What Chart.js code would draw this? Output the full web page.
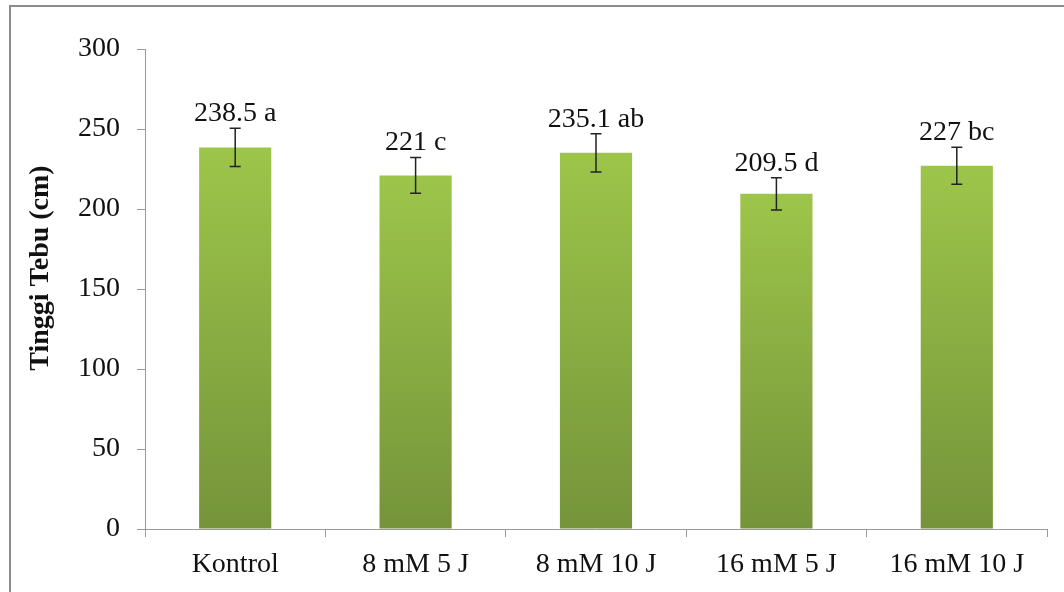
<!DOCTYPE html>
<html>
<head>
<meta charset="utf-8">
<title>Tinggi Tebu</title>
<script src="https://cdn.jsdelivr.net/npm/chart.js@4/dist/chart.umd.min.js"></script>
<style>
  html, body { margin: 0; padding: 0; background: #ffffff; overflow: hidden; width: 1064px; height: 592px; }
  #frame { position: absolute; left: 9px; top: 5px; width: 1100px; height: 700px; border: 2px solid #8c8c8c; box-sizing: border-box; }
  #wrap { position: absolute; left: 0; top: 0; width: 1064px; height: 592px; }
</style>
</head>
<body>
<div id="frame"></div>
<div id="wrap"><canvas id="c" width="1064" height="592"></canvas></div>
<script>
// Treatments and measured cane height (cm)
const categories = ['Kontrol', '8 mM 5 J', '8 mM 10 J', '16 mM 5 J', '16 mM 10 J'];
const heights = [238.5, 221, 235.1, 209.5, 227];
const errors = [12, 11.2, 11.9, 10.1, 11.6];
const letters = ['a', 'c', 'ab', 'd', 'bc'];
const yTicks = [0, 50, 100, 150, 200, 250, 300];

const FONT = 'Liberation Serif, Times New Roman, serif';
const FONT_SIZE = 28;
const AXIS_GREY = '#9a9a9a';

// Vertical green gradient for each bar, light at its top and darker at the base
function barGradient(ctx) {
  const chart = ctx.chart;
  if (!chart.chartArea || ctx.dataIndex === undefined) return '#8db441';
  const y = chart.scales.y;
  const top = y.getPixelForValue(heights[ctx.dataIndex]);
  const bottom = y.getPixelForValue(0);
  const g = chart.ctx.createLinearGradient(0, top, 0, bottom);
  g.addColorStop(0, '#9dc54a');
  g.addColorStop(1, '#75943a');
  return g;
}

// Error whiskers and value/letter labels above each bar
const errorLabels = {
  id: 'errorLabels',
  afterDatasetsDraw(chart) {
    const { ctx } = chart;
    const y = chart.scales.y;
    const meta = chart.getDatasetMeta(0);
    ctx.save();
    meta.data.forEach((bar, i) => {
      const x = bar.x;
      const hi = y.getPixelForValue(heights[i] + errors[i]);
      const lo = y.getPixelForValue(heights[i] - errors[i]);
      ctx.strokeStyle = '#222';
      ctx.lineWidth = 1.5;
      ctx.beginPath();
      ctx.moveTo(x, hi); ctx.lineTo(x, lo);
      ctx.moveTo(x - 5.5, hi); ctx.lineTo(x + 5.5, hi);
      ctx.moveTo(x - 5.5, lo); ctx.lineTo(x + 5.5, lo);
      ctx.stroke();
      ctx.fillStyle = '#111';
      ctx.font = FONT_SIZE + 'px ' + FONT;
      ctx.textAlign = 'center';
      ctx.textBaseline = 'alphabetic';
      ctx.fillText(heights[i] + ' ' + letters[i], x, hi - 7);
    });
    ctx.restore();
  }
};

new Chart(document.getElementById('c'), {
  type: 'bar',
  data: {
    labels: categories,
    datasets: [{
      data: heights,
      backgroundColor: barGradient,
      borderWidth: 0,
      categoryPercentage: 1.0,
      barPercentage: 0.4
    }]
  },
  options: {
    responsive: false,
    devicePixelRatio: 1,
    animation: false,
    layout: { padding: { top: 49, right: 17, left: 0, bottom: 0 } },
    plugins: { legend: { display: false }, tooltip: { enabled: false } },
    scales: {
      x: {
        type: 'category',
        offset: true,
        grid: { offset: true, drawOnChartArea: false, drawTicks: true, tickLength: 8, color: AXIS_GREY },
        border: { color: AXIS_GREY, width: 1 },
        ticks: { color: '#111', font: { family: FONT, size: FONT_SIZE }, padding: 11, maxRotation: 0 },
        afterFit(s) { s.height = 63; }
      },
      y: {
        min: 0,
        max: 300,
        afterBuildTicks(s) { s.ticks = yTicks.map(v => ({ value: v })); },
        grid: { drawOnChartArea: false, drawTicks: true, tickLength: 8, color: AXIS_GREY },
        border: { color: AXIS_GREY, width: 1 },
        ticks: { color: '#111', font: { family: FONT, size: FONT_SIZE }, padding: 17 },
        title: {
          display: true,
          // leading en spaces lift the rotated title a little above the axis midpoint
          text: '\u2002\u2002\u2002Tinggi Tebu (cm)',
          color: '#111',
          font: { family: FONT, size: FONT_SIZE, weight: 'bold' },
          padding: { top: 24, bottom: 0 }
        },
        afterFit(s) { s.width = 145; }
      }
    }
  },
  plugins: [errorLabels]
});
</script>
</body>
</html>
